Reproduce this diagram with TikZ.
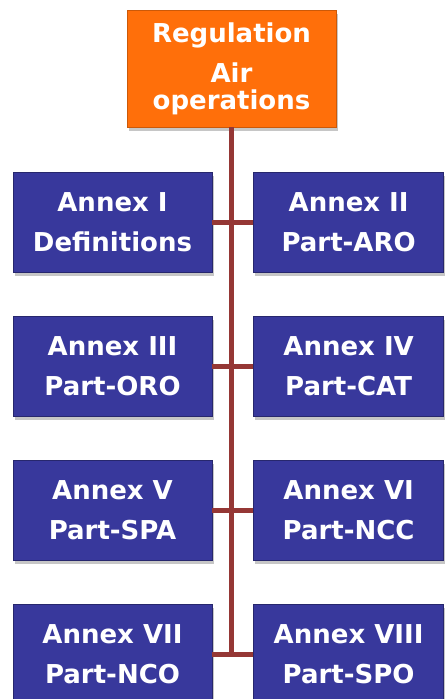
\documentclass[tikz,border=0pt]{standalone}
\usepackage{fontspec}
\setmainfont{DejaVu Sans}
\usetikzlibrary{positioning,shadows}
\definecolor{annexblue}{HTML}{38389C}
\definecolor{regorange}{HTML}{FF6F0A}
\definecolor{linkred}{HTML}{953735}
\begin{document}
\begin{tikzpicture}[x=1pt, y=-1pt, node distance=43.5pt,
    block/.style={rectangle, fill=annexblue, draw=annexblue!70!black, line width=0.6pt, text=white, font=\fontsize{26}{40}\selectfont\bfseries, minimum height=100pt, minimum width=199pt, align=center, inner sep=0pt, drop shadow={opacity=0.45, shadow xshift=1.5pt, shadow yshift=-3.5pt}},
    topblock/.style={block, fill=regorange, draw=regorange!80!black, font=\fontsize{26}{27}\selectfont\bfseries, minimum height=117pt, minimum width=209pt},
    link/.style={linkred, line width=5pt}
]
\useasboundingbox (0,0) rectangle (445,699);

% Nodes
\node[topblock] (regulation) at (231.5,68.5) {Regulation\\[13pt]Air\\operations};
\node[block] (definitions) at (112.5,222) {Annex I\\Definitions};
\node[block, below=of definitions] (oro) {Annex III\\Part-ORO};
\node[block, below=of oro] (spa) {Annex V\\Part-SPA};
\node[block, below=of spa] (nco) {Annex VII\\Part-NCO};
\node[block, minimum width=190pt, right=41pt of definitions] (aro) {Annex II\\Part-ARO};
\node[block, minimum width=190pt, right=41pt of oro] (cat) {Annex IV\\Part-CAT};
\node[block, minimum width=190pt, right=41pt of spa] (ncc) {Annex VI\\Part-NCC};
\node[block, minimum width=190pt, right=41pt of nco] (spo) {Annex VIII\\Part-SPO};

% Links
\draw[link] (regulation.south) -- (regulation.south |- nco.east);
\draw[link] (definitions) -- (aro);
\draw[link] (oro) -- (cat);
\draw[link] (spa) -- (ncc);
\draw[link] (nco) -- (spo);

\end{tikzpicture}
\end{document}
